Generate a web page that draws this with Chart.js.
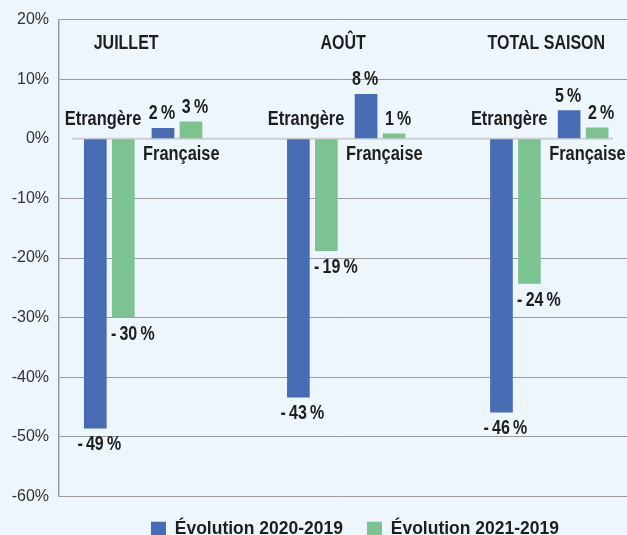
<!DOCTYPE html>
<html>
<head>
<meta charset="utf-8">
<script src="https://cdn.jsdelivr.net/npm/chart.js@4/dist/chart.umd.min.js"></script>
<style>
  html, body { margin: 0; padding: 0; background: #edf5fd; overflow: hidden; }
  #wrap { width: 627px; height: 548px; }
</style>
</head>
<body>
<div id="wrap"><canvas id="chart" width="627" height="548"></canvas></div>
<script>
// Data
const groups = ['JUILLET', 'AOÛT', 'TOTAL SAISON'];
const origins = ['Etrangère', 'Française'];
const seriesNames = ['Évolution 2020-2019', 'Évolution 2021-2019'];
// one value per (group, origin): Etrangère, Française for each group
const evol2020 = [-48.6, 1.8, -43.4, 7.5, -45.9, 4.8];
const evol2021 = [-30.0, 2.9, -18.8, 0.9, -24.3, 1.9];
const yMin = -60;
const yMax = 20;
const yStep = 10;

const BLUE = '#476cb4';
const GREEN = '#7dc392';
const TEXT = '#1e1e1e';
const SANS = '"Liberation Sans", Arial, sans-serif';

// each group takes 3 slots on the x axis: Etrangère, Française, then a gap
const slotOf = i => Math.floor(i / origins.length) * 3 + (i % origins.length);
const toPoints = values => values.map((v, i) => ({ x: slotOf(i), y: v }));

const pctLabel = v => {
    const r = Math.round(v);
    return (r < 0 ? '-\u2009' : '') + Math.abs(r) + '\u2009%';
};

// no narrow font installed, so squeeze the bold sans horizontally
const narrowText = (ctx, text, x, y, align) => {
    ctx.save();
    ctx.translate(x, y);
    ctx.scale(0.82, 1);
    ctx.textAlign = align;
    ctx.fillText(text, 0, 0);
    ctx.restore();
};

// Draws the light zero line, group titles, origin names and value labels
const annotations = {
    id: 'annotations',
    afterLayout(chart) {
        // legend sits a bit right of the plot centre in the original
        chart.legend.left += 12;
        chart.legend.right += 12;
    },
    beforeDatasetsDraw(chart) {
        const { ctx, chartArea, scales } = chart;
        const y0 = scales.y.getPixelForValue(0);
        ctx.save();
        ctx.strokeStyle = '#cdd0d3';
        ctx.lineWidth = 2;
        ctx.beginPath();
        ctx.moveTo(chartArea.left + 13, y0);
        ctx.lineTo(chartArea.right - 14, y0);
        ctx.stroke();
        ctx.restore();
    },
    afterDatasetsDraw(chart) {
        const { ctx, scales } = chart;
        const x = scales.x;
        ctx.save();
        ctx.fillStyle = TEXT;
        ctx.textBaseline = 'middle';

        // group titles
        const titleShift = [-17, -3, -3];
        ctx.font = 'bold 19.5px ' + SANS;
        groups.forEach((g, gi) => {
            narrowText(ctx, g, x.getPixelForValue(gi * 3 + 0.5) + titleShift[gi], 44, 'center');
        });

        // origin names next to each pair of bars
        ctx.font = 'bold 20px ' + SANS;
        groups.forEach((g, gi) => {
            const etr = x.getPixelForValue(gi * 3);
            const fra = x.getPixelForValue(gi * 3 + 1);
            narrowText(ctx, origins[0], etr + 32, 119, 'right');
            narrowText(ctx, origins[1], fra - 34, 154, 'left');
        });

        // value labels
        ctx.font = 'bold 19.5px ' + SANS;
        chart.data.datasets.forEach((ds, di) => {
            const meta = chart.getDatasetMeta(di);
            meta.data.forEach((bar, i) => {
                const v = ds.data[i].y;
                const txt = pctLabel(v);
                if (v >= 0) {
                    narrowText(ctx, txt, bar.x + (di === 0 ? -1 : 4), bar.y - 14, 'center');
                } else if (di === 0) {
                    narrowText(ctx, txt, bar.x + 4, bar.y + 16, 'center');
                } else {
                    narrowText(ctx, txt, bar.x - bar.width / 2 - 1, bar.y + 17, 'left');
                }
            });
        });
        ctx.restore();
    }
};

const ctx = document.getElementById('chart').getContext('2d');
new Chart(ctx, {
    type: 'bar',
    data: {
        datasets: [
            {
                label: seriesNames[0],
                data: toPoints(evol2020),
                backgroundColor: BLUE,
                borderWidth: 0
            },
            {
                label: seriesNames[1],
                data: toPoints(evol2021),
                backgroundColor: GREEN,
                borderWidth: 0
            }
        ]
    },
    options: {
        responsive: false,
        animation: false,
        categoryPercentage: 0.827,
        barPercentage: 0.81,
        layout: { padding: { top: 19, right: 0, left: 0, bottom: 0 } },
        plugins: {
            tooltip: { enabled: false },
            legend: {
                position: 'bottom',
                fullSize: false,
                labels: {
                    color: TEXT,
                    boxWidth: 15,
                    boxHeight: 15,
                    padding: 24,
                    font: { family: SANS, size: 17.5, weight: 'bold' }
                }
            }
        },
        scales: {
            x: {
                type: 'linear',
                display: false,
                offset: false,
                min: -0.743,
                max: 7.648,
                ticks: { stepSize: 1, includeBounds: false }
            },
            y: {
                min: yMin,
                max: yMax,
                afterFit: s => { s.width = 59; },
                border: { display: true, color: '#9a9a9a', width: 1.5 },
                grid: {
                    drawTicks: false,
                    lineWidth: 1,
                    color: c => (c.tick && c.tick.value === 0 ? 'rgba(0,0,0,0)' : '#9a9a9a')
                },
                ticks: {
                    stepSize: yStep,
                    padding: 10,
                    color: '#333',
                    font: { family: SANS, size: 16 },
                    callback: v => v + '%'
                }
            }
        }
    },
    plugins: [annotations]
});
</script>
</body>
</html>
